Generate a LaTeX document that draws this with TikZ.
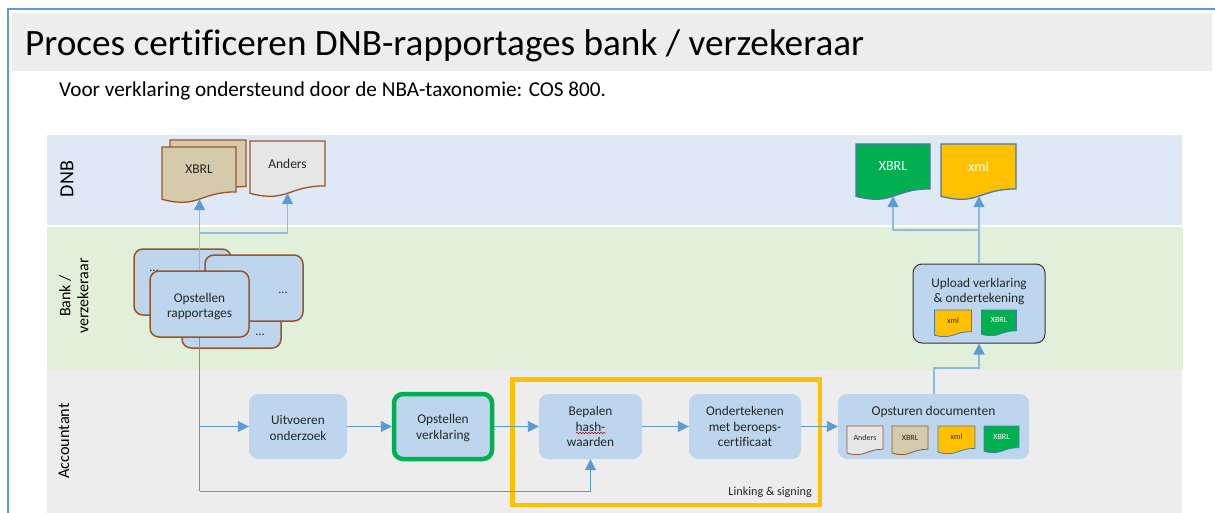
\documentclass[tikz,border=0pt]{standalone}
\usepackage{fontspec}
\setmainfont[Ligatures=CommonOff]{Carlito}
\usetikzlibrary{arrows.meta,calc,decorations.pathmorphing}
\definecolor{lane1}{HTML}{DEE9F5}
\definecolor{lane2}{HTML}{E2EFDA}
\definecolor{lane3}{HTML}{EDEDED}
\definecolor{boxblue}{HTML}{BDD6EE}
\definecolor{frameblue}{HTML}{5B9BD5}
\definecolor{lineup}{HTML}{8FBBE3}
\definecolor{rustb}{HTML}{9C5426}
\definecolor{tanf}{HTML}{D6CAAC}
\definecolor{greyf}{HTML}{E7E6E6}
\definecolor{docgreen}{HTML}{00B050}
\definecolor{docyellow}{HTML}{FFC000}
\definecolor{steelb}{HTML}{4A7AA8}
\definecolor{inkc}{HTML}{262626}
\tikzset{
  lane/.style={fill=#1,draw=none},
  stepbox/.style={rounded corners=9pt,fill=boxblue,draw=none,align=center,font=\fontsize{13.3}{15.5}\selectfont,text=inkc,inner sep=0pt},
  stackbox/.style={stepbox,draw=rustb,line width=1.5pt},
  flow/.style={draw=frameblue,line width=.9pt,-{Triangle[length=11pt,width=11pt,color=frameblue,fill=frameblue]}},
  flowplain/.style={draw=frameblue,line width=.9pt},
  flowup/.style={draw=lineup,line width=1.5pt,-{Triangle[length=11pt,width=11pt,color=frameblue,fill=frameblue]}},
  lanelabel/.style={rotate=90,align=center,text=black,inner sep=0pt},
}
% name, x, y, w, h, fill, border, border width, text colour; text comes from \doctext
\newcommand{\docshape}[9]{%
  \begin{scope}[shift={(#2,#3)},x=#4pt,y=-#5pt]
    \path[fill=#6,draw=#7,line width=#8pt,line join=miter]
      (0,0) -- (1,0) -- (1,0.802) .. controls (0.5,0.802) and (0.5,1.108) .. (0,0.934) -- cycle;
    \coordinate (#1-s) at (0.5,0.933);
    \node[text=#9,inner sep=0pt] (#1) at (0.5,0.4) {\docbody};
  \end{scope}}
\newcommand{\docbody}{}
\newcommand{\doctext}[2]{\renewcommand{\docbody}{\fontsize{#1}{#1}\selectfont #2}}
\newcommand{\dnstrut}[1]{\rule{0pt}{#1pt}}
\begin{document}
\begin{tikzpicture}[x=1pt,y=-1pt]
\useasboundingbox (0,0) rectangle (1215,513);
\fill[white] (0,0) rectangle (1215,513);
% frame
\draw[frameblue,line width=1.6pt] (8,513) -- (8,9) -- (1215,9);
% title
\fill[lane3] (12,13) rectangle (1212,71);
\node[anchor=west,inner sep=0pt,text=black,font=\fontsize{37.2}{42}\selectfont] (title) at (25,46) {Proces certificeren DNB-rapportages bank / verzekeraar};
\node[anchor=west,inner sep=0pt,text=black,font=\fontsize{21.2}{25}\selectfont] (sub) at (59,91) {Voor verklaring ondersteund door de NBA-taxonomie: COS 800.};
% lanes
\path[lane=lane1] (47,135) rectangle (1182,225);
\path[lane=lane2] (47,227) rectangle (1183,370);
\path[lane=lane3] (47,370) rectangle (1182,513);
\node[lanelabel,font=\fontsize{20}{22}\selectfont] (l1) at (67,179) {DNB};
\node[lanelabel,font=\fontsize{16}{18}\selectfont] (l2) at (74,296) {Bank /\\verzekeraar};
\node[lanelabel,font=\fontsize{16.3}{18}\selectfont] (l3) at (64,441) {Accountant};
% yellow frame
\draw[docyellow,line width=4.5pt] (512.5,379.5) rectangle (820,505);
\node[anchor=east,inner sep=0pt,text=inkc,font=\fontsize{12.2}{14}\selectfont] (ls) at (812,492) {Linking \& signing};
% DNB documents
\doctext{13.5}{}
\docshape{xbrlback}{170}{140}{76}{58}{tanf}{rustb}{1.3}{inkc}
\doctext{13.5}{XBRL}
\docshape{xbrlfront}{162}{147}{74}{56}{tanf}{rustb}{1.3}{inkc}
\doctext{13.5}{Anders}
\docshape{anders}{250}{141}{75}{56}{greyf}{rustb}{1.3}{inkc}
\doctext{14}{XBRL}
\docshape{dnbx}{856}{144}{74}{56}{docgreen}{steelb}{1.3}{white}
\doctext{14}{xml}
\docshape{dnby}{941}{144}{75}{56}{docyellow}{steelb}{1.3}{white}
% stacked process boxes
\node[stackbox,minimum width=97pt,minimum height=66pt] (sa) at (182.5,282) {};
\node[inner sep=0pt,font=\fontsize{12.5}{15}\selectfont,text=inkc] (sat) at (154,271) {...};
\node[stackbox,minimum width=99pt,minimum height=66pt] (sc) at (231.5,315) {};
\node[inner sep=0pt,font=\fontsize{12.5}{15}\selectfont,text=inkc] (sct) at (260,335) {...};
\node[stackbox,minimum width=98pt,minimum height=66pt] (sb) at (254,288) {};
\node[inner sep=0pt,font=\fontsize{12.5}{15}\selectfont,text=inkc] (sbt) at (283,293) {...};
% connector way-points
\coordinate (upb) at (200,233);
\coordinate (downb) at (200,491);
% process boxes
\node[stepbox,minimum width=98pt,minimum height=65pt] (uit) at (298,426.5) {\dnstrut{12}Uitvoeren\\onderzoek};
\node[stepbox,draw=docgreen,line width=4.5pt,minimum width=98pt,minimum height=65pt] (ver) at (443,426.5) {\dnstrut{12}Opstellen\\verklaring};
\node[stepbox,minimum width=103pt,minimum height=65pt] (bep) at (590.5,426.5) {Bepalen\\hash-\\waarden};
\node[stepbox,minimum width=112pt,minimum height=65pt] (ond) at (745,426.5) {Ondertekenen\\met beroeps-\\certificaat};
\node[stepbox,minimum width=191pt,minimum height=65pt] (ops) at (933.5,426.5) {};
\node[inner sep=0pt,font=\fontsize{13.5}{15}\selectfont,text=inkc] (opst) at (933.5,412) {Opsturen documenten};
\node[stepbox,draw=black!80,line width=1pt,minimum width=132pt,minimum height=79pt] (upl) at (979,303.5) {};
\node[align=center,inner sep=0pt,font=\fontsize{13.3}{15.5}\selectfont,text=inkc] (uplt) at (979,291.5) {Upload verklaring\\\& ondertekening};
% small documents
\doctext{8}{xml}
\docshape{ux}{934.5}{310}{37}{27}{docyellow}{steelb}{.8}{inkc}
\doctext{8}{XBRL}
\docshape{ug}{981.5}{310}{35}{26}{docgreen}{steelb}{.8}{white}
\doctext{8}{Anders}
\docshape{oa}{847}{426}{36}{29}{greyf}{rustb}{.8}{inkc}
\doctext{8}{XBRL}
\docshape{ob}{892}{426}{36}{29}{tanf}{rustb}{.8}{inkc}
\doctext{8}{xml}
\docshape{oc}{938}{426}{37}{28}{docyellow}{steelb}{.8}{inkc}
\doctext{8}{XBRL}
\docshape{od}{984}{426}{35}{27}{docgreen}{steelb}{.8}{white}
% left connectors
\node[stackbox,minimum width=99pt,minimum height=66pt] (sd) at (199.5,304) {\dnstrut{14}Opstellen\\rapportages};
\draw[flowup] (sd.north) -- (sd.north |- xbrlfront-s);
\draw[flowup] (sd.north |- upb) -| (anders-s);
\draw[flowplain] (sd.south) -- (sd.south |- downb);
\draw[flow] (sd.south |- uit.west) -- (uit.west);
\draw[flow] (sd.south |- downb) -| (bep.south);
% chain
\draw[flow] (uit.east) -- (ver.west);
\draw[flow] (ver.east) -- (bep.west);
\draw[flow] (bep.east) -- (ond.west);
\draw[flow] (ond.east) -- (ops.west);
% right connectors
\coordinate (opu) at (934,368);
\draw[flowup] (ops.north -| opu) -- (opu) -| (upl.south);
\draw[flowup] (upl.north) -- (upl.north |- dnby-s);
\coordinate (upr) at (979,230);
\draw[flowup] (upr) -| (dnbx-s);
% spell-check squiggle
\coordinate (sq1) at (576,433);
\coordinate (sq2) at (606,433);
\draw[red!80!black,line width=.5pt,decorate,decoration={snake,amplitude=.7pt,segment length=3pt}] (sq1) -- (sq2);
\end{tikzpicture}
\end{document}
